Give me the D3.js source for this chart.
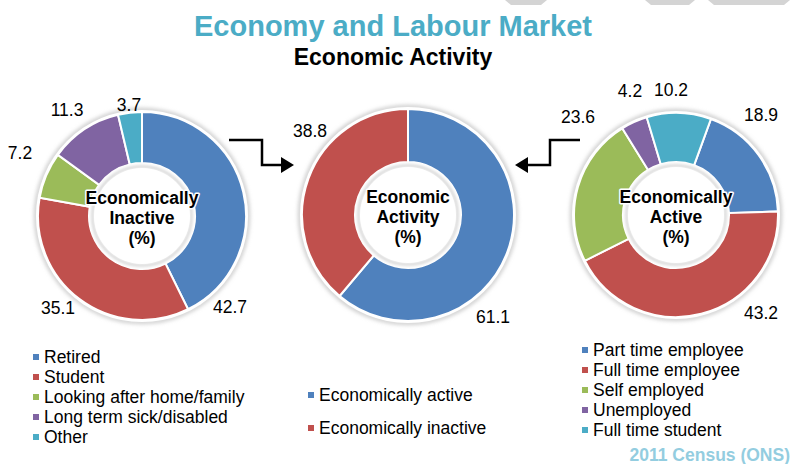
<!DOCTYPE html>
<html>
<head>
<meta charset="utf-8">
<script src="https://cdn.jsdelivr.net/npm/d3@7"></script>
<style>
  html, body { margin: 0; padding: 0; background: #ffffff; }
  svg { display: block; font-family: "Liberation Sans", Arial, sans-serif; }
</style>
</head>
<body>
<svg id="chart" width="792" height="464"></svg>
<script>
// ---------------- DATA ----------------
const inactiveCategories = ["Retired", "Student", "Looking after home/family", "Long term sick/disabled", "Other"];
const inactiveValues = [42.7, 35.1, 7.2, 11.3, 3.7];

const activityCategories = ["Economically active", "Economically inactive"];
const activityValues = [61.1, 38.8];

const activeCategories = ["Part time employee", "Full time employee", "Self employed", "Unemployed", "Full time student"];
const activeValues = [18.9, 43.2, 23.6, 4.2, 10.2];

const titleText = "Economy and Labour Market";
const subtitleText = "Economic Activity";
const sourceText = "2011 Census (ONS)";

// ---------------- LAYOUT / STYLE ----------------
const palette = ["#4F81BD", "#C0504D", "#9BBB59", "#8064A2", "#4BACC6"];
const outerR = 104, innerR = 53;

// label offsets (dx, dy) from donut centre, as placed in the original
const leftLabelOffsets = [[88, 91], [-84, 92], [-122, -63], [-75, -106], [-13, -111]];
const midLabelOffsets = [[85, 102], [-98, -84]];
const rightLabelOffsets = [[85, -100], [85, 98], [-98, -98], [-46, -124], [-5, -125]];

const donuts = [
  { cx: 142, cy: 216, r: outerR, start: 0, cats: inactiveCategories, vals: inactiveValues,
    centre: ["Economically", "Inactive", "(%)"], offsets: leftLabelOffsets },
  { cx: 408, cy: 215, r: outerR + 2, start: 0, cats: activityCategories, vals: activityValues,
    centre: ["Economic", "Activity", "(%)"], offsets: midLabelOffsets },
  { cx: 676, cy: 215, r: outerR - 2, start: 20, cats: activeCategories, vals: activeValues,
    centre: ["Economically", "Active", "(%)"], offsets: rightLabelOffsets }
];

const svg = d3.select("#chart");
const defs = svg.append("defs");
const sh = defs.append("filter").attr("id", "shadow").attr("x", "-20%").attr("y", "-20%").attr("width", "140%").attr("height", "140%");
sh.append("feGaussianBlur").attr("stdDeviation", 2.2);
const sh2 = defs.append("filter").attr("id", "soft").attr("x", "-20%").attr("y", "-20%").attr("width", "140%").attr("height", "140%");
sh2.append("feGaussianBlur").attr("stdDeviation", 1.5);

// decorative stripes at top right
const stripes = [[505, 547], [645, 695], [708, 790]];
svg.selectAll("polygon.stripe").data(stripes).enter().append("polygon")
  .attr("class", "stripe")
  .attr("points", d => `${d[0]},0 ${d[1]},0 ${d[1] - 6},5 ${d[0] + 6},5`)
  .attr("fill", "#d4d4d4");

// titles
svg.append("text").attr("x", 393).attr("y", 36).attr("text-anchor", "middle")
  .attr("font-size", 29).attr("font-weight", "bold").attr("fill", "#4BACC6").text(titleText);
svg.append("text").attr("x", 393).attr("y", 65).attr("text-anchor", "middle")
  .attr("font-size", 23).attr("font-weight", "bold").attr("fill", "#000").text(subtitleText);

const color = d3.scaleOrdinal().range(palette);

donuts.forEach(dn => {
  const g = svg.append("g").attr("transform", `translate(${dn.cx},${dn.cy})`);
  const a0 = dn.start * Math.PI / 180;
  const pie = d3.pie().sort(null).value(d => d).startAngle(a0).endAngle(a0 + 2 * Math.PI);
  const arc = d3.arc().innerRadius(innerR).outerRadius(dn.r);
  const c = color.copy().domain(dn.cats);

  // outer soft shadow
  g.append("circle").attr("r", dn.r + 2).attr("fill", "none")
    .attr("stroke", "#b8b8b8").attr("stroke-width", 3).attr("filter", "url(#shadow)");
  g.append("circle").attr("r", dn.r + 2).attr("fill", "#fff");

  g.selectAll("path.slice").data(pie(dn.vals)).enter().append("path")
    .attr("class", "slice")
    .attr("d", arc)
    .attr("fill", (d, i) => c(dn.cats[i]))
    .attr("stroke", "#fff").attr("stroke-width", 2);

  // inner hole with white ring and soft inner shadow
  g.append("circle").attr("r", innerR).attr("fill", "#fff");
  g.append("circle").attr("r", innerR - 3.5).attr("fill", "none")
    .attr("stroke", "#c8c8c8").attr("stroke-width", 2).attr("filter", "url(#soft)");
  g.append("circle").attr("r", innerR - 5).attr("fill", "#fff");

  // value labels
  g.selectAll("text.val").data(dn.vals).enter().append("text")
    .attr("class", "val")
    .attr("x", (d, i) => dn.offsets[i][0])
    .attr("y", (d, i) => dn.offsets[i][1])
    .attr("dy", "0.35em")
    .attr("text-anchor", "middle")
    .attr("font-size", 17.5).attr("fill", "#000")
    .text(d => d3.format(".1f")(d));

  // centre text
  g.selectAll("text.ctr").data(dn.centre).enter().append("text")
    .attr("class", "ctr")
    .attr("x", 0).attr("y", (d, i) => -18 + i * 20)
    .attr("dy", "0.35em")
    .attr("text-anchor", "middle")
    .attr("font-size", 17.5).attr("font-weight", "bold")
    .attr("fill", "#000")
    .attr("stroke", "#fff").attr("stroke-width", 3).attr("paint-order", "stroke")
    .attr("stroke-linejoin", "round")
    .text(d => d);
});

// arrows
svg.append("path").attr("d", "M229,140 H262 V165 H283").attr("fill", "none")
  .attr("stroke", "#000").attr("stroke-width", 2.5);
svg.append("polygon").attr("points", "294,165 281,157 281,173").attr("fill", "#000");
svg.append("path").attr("d", "M580,140 H550 V165 H527").attr("fill", "none")
  .attr("stroke", "#000").attr("stroke-width", 2.5);
svg.append("polygon").attr("points", "515,165 528,157 528,173").attr("fill", "#000");

// legends
function legend(x, y0, step, cats) {
  const c = color.copy().domain(cats);
  const g = svg.append("g");
  const rows = g.selectAll("g").data(cats).enter().append("g")
    .attr("transform", (d, i) => `translate(${x},${y0 + i * step})`);
  rows.append("rect").attr("x", 0).attr("y", -3).attr("width", 6).attr("height", 6)
    .attr("fill", d => c(d));
  rows.append("text").attr("x", 11).attr("y", 0).attr("dy", "0.35em")
    .attr("font-size", 17.5).attr("fill", "#000").text(d => d);
}
legend(33, 357, 20, inactiveCategories);
legend(308, 395, 33, activityCategories);
legend(582, 350, 20, activeCategories);

svg.append("text").attr("x", 790).attr("y", 455).attr("dy", "0.35em").attr("text-anchor", "end")
  .attr("font-size", 17.5).attr("font-weight", "bold").attr("fill", "#93cde0").text(sourceText);
</script>
</body>
</html>
